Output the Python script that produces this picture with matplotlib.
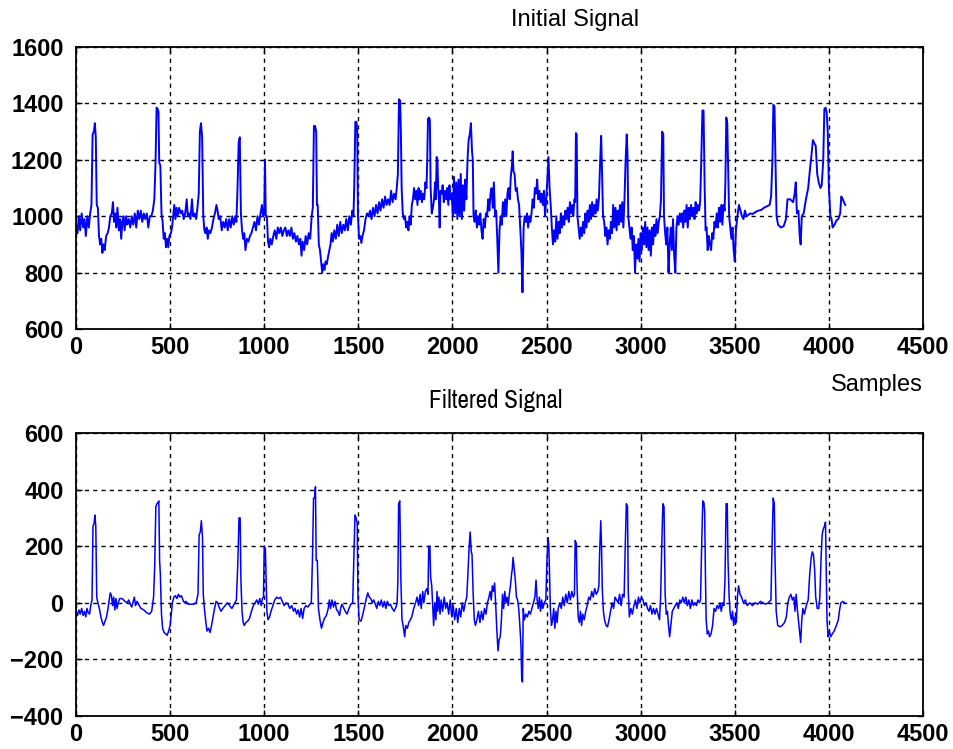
import matplotlib
matplotlib.use("Agg")
import matplotlib.pyplot as plt
from matplotlib import font_manager

# values (sample index, amplitude)
initial_samples = [
    0, 8, 15, 22, 30, 38, 45, 52, 60, 68, 75, 82,
    88, 95, 100, 105, 110, 116, 122, 128, 134, 140, 146, 152,
    160, 168, 175, 182, 190, 196, 202, 208, 214, 220, 228, 234,
    240, 246, 252, 258, 266, 272, 280, 288, 296, 304, 312, 320,
    328, 336, 344, 352, 360, 368, 376, 384, 392, 400, 408, 416,
    422, 428, 434, 438, 442, 448, 454, 460, 466, 472, 478, 484,
    490, 496, 504, 510, 516, 522, 528, 534, 540, 548, 556, 564,
    572, 580, 588, 594, 600, 608, 616, 622, 630, 638, 645, 652,
    658, 664, 670, 676, 682, 688, 694, 700, 706, 714, 722, 730,
    738, 746, 752, 758, 766, 774, 782, 790, 798, 806, 814, 822,
    830, 838, 846, 852, 858, 864, 870, 876, 882, 888, 894, 900,
    908, 916, 924, 932, 940, 948, 956, 964, 972, 980, 988, 994,
    1000, 1004, 1008, 1014, 1020, 1026, 1032, 1040, 1048, 1056, 1064, 1072,
    1080, 1088, 1096, 1104, 1112, 1120, 1128, 1136, 1144, 1152, 1160, 1168,
    1176, 1184, 1192, 1198, 1204, 1212, 1220, 1228, 1236, 1244, 1252, 1258,
    1264, 1270, 1276, 1280, 1284, 1290, 1296, 1302, 1308, 1314, 1320, 1326,
    1332, 1340, 1346, 1352, 1358, 1364, 1372, 1380, 1388, 1396, 1404, 1412,
    1420, 1428, 1436, 1444, 1452, 1460, 1468, 1474, 1478, 1484, 1490, 1494,
    1498, 1504, 1510, 1516, 1522, 1530, 1538, 1546, 1554, 1562, 1570, 1578,
    1586, 1594, 1602, 1610, 1618, 1626, 1634, 1642, 1650, 1658, 1666, 1674,
    1682, 1690, 1698, 1704, 1710, 1716, 1722, 1726, 1730, 1736, 1742, 1748,
    1754, 1760, 1766, 1772, 1778, 1784, 1790, 1796, 1802, 1808, 1814, 1820,
    1826, 1832, 1838, 1844, 1850, 1856, 1862, 1866, 1870, 1876, 1880, 1884,
    1890, 1896, 1902, 1908, 1912, 1916, 1920, 1924, 1928, 1932, 1936, 1942,
    1948, 1954, 1960, 1966, 1972, 1978, 1984, 1990, 1996, 2002, 2008, 2014,
    2020, 2026, 2032, 2038, 2044, 2050, 2056, 2062, 2068, 2074, 2080, 2086,
    2092, 2098, 2104, 2108, 2112, 2118, 2124, 2130, 2136, 2142, 2148, 2154,
    2160, 2166, 2172, 2178, 2184, 2190, 2196, 2202, 2208, 2214, 2220, 2226,
    2232, 2238, 2244, 2250, 2256, 2262, 2268, 2274, 2280, 2286, 2292, 2298,
    2304, 2310, 2316, 2320, 2324, 2330, 2336, 2342, 2348, 2354, 2360, 2366,
    2372, 2378, 2384, 2390, 2396, 2402, 2408, 2414, 2420, 2426, 2432, 2438,
    2444, 2450, 2456, 2462, 2468, 2474, 2480, 2486, 2492, 2498, 2504, 2510,
    2516, 2522, 2528, 2534, 2540, 2546, 2552, 2558, 2564, 2570, 2576, 2582,
    2588, 2594, 2600, 2606, 2612, 2618, 2624, 2630, 2636, 2642, 2648, 2652,
    2656, 2660, 2664, 2670, 2676, 2682, 2688, 2694, 2700, 2706, 2712, 2718,
    2724, 2730, 2736, 2742, 2748, 2754, 2760, 2766, 2772, 2778, 2784, 2790,
    2794, 2800, 2806, 2812, 2818, 2824, 2830, 2836, 2842, 2848, 2854, 2860,
    2866, 2872, 2878, 2884, 2890, 2896, 2902, 2908, 2914, 2920, 2926, 2930,
    2934, 2940, 2946, 2952, 2958, 2964, 2970, 2976, 2982, 2988, 2994, 3000,
    3006, 3012, 3018, 3024, 3030, 3036, 3042, 3048, 3054, 3060, 3066, 3072,
    3078, 3084, 3090, 3096, 3102, 3108, 3114, 3120, 3124, 3130, 3136, 3142,
    3148, 3154, 3160, 3166, 3172, 3178, 3184, 3190, 3196, 3202, 3208, 3214,
    3220, 3226, 3232, 3238, 3244, 3250, 3256, 3262, 3268, 3274, 3280, 3286,
    3292, 3298, 3304, 3310, 3316, 3322, 3328, 3334, 3340, 3345, 3350, 3356,
    3362, 3368, 3374, 3380, 3386, 3392, 3398, 3404, 3410, 3416, 3422, 3428,
    3434, 3440, 3446, 3450, 3455, 3460, 3464, 3470, 3476, 3482, 3488, 3494,
    3500, 3506, 3514, 3522, 3530, 3538, 3546, 3554, 3562, 3572, 3582, 3595,
    3610, 3625, 3640, 3655, 3670, 3685, 3693, 3700, 3705, 3711, 3716, 3722,
    3730, 3745, 3760, 3772, 3780, 3795, 3810, 3818, 3824, 3830, 3838, 3845,
    3850, 3856, 3866, 3878, 3890, 3900, 3908, 3915, 3922, 3930, 3938, 3946,
    3955, 3962, 3970, 3976, 3982, 3988, 3994, 4000, 4008, 4014, 4020, 4030,
    4040, 4050, 4060, 4066, 4074, 4080, 4087,
]
initial_values = [
    970, 940, 1000, 950, 1010, 960, 990, 930, 1000, 960, 1010, 1040,
    1290, 1300, 1330, 1280, 1040, 1030, 930, 900, 920, 870, 900, 880,
    930, 940, 960, 1000, 1010, 1050, 980, 1010, 960, 1030, 950, 990,
    920, 980, 1000, 950, 1000, 970, 990, 960, 1000, 970, 1010, 960,
    1020, 990, 1020, 980, 1010, 990, 1010, 960, 1000, 1000, 1020, 1060,
    1180, 1385, 1380, 1370, 1190, 1180, 1010, 980, 920, 940, 890, 920,
    890, 930, 940, 960, 1000, 1040, 990, 1030, 1000, 1030, 1010, 1020,
    990, 1010, 1060, 1000, 1010, 990, 1060, 1000, 1010, 990, 1030, 1080,
    1300, 1330, 1280, 1000, 950, 940, 960, 920, 950, 940, 960, 990,
    1010, 1040, 1020, 990, 1000, 950, 980, 960, 990, 950, 990, 960,
    1000, 970, 1000, 980, 1100, 1260, 1280, 1010, 950, 920, 940, 880,
    920, 910, 930, 940, 960, 980, 950, 1000, 970, 1010, 1040, 1000,
    1010, 1200, 1000, 1000, 910, 890, 920, 900, 930, 950, 920, 960,
    940, 960, 930, 950, 960, 930, 950, 930, 960, 920, 940, 910,
    930, 900, 920, 860, 910, 880, 930, 900, 940, 920, 1000, 1030,
    1320, 1320, 1300, 1040, 1040, 900, 880, 840, 800, 830, 810, 840,
    830, 860, 880, 900, 940, 910, 950, 920, 970, 930, 980, 940,
    970, 950, 990, 950, 1000, 970, 1020, 1000, 1100, 1335, 1335, 1300,
    1000, 920, 930, 905, 930, 950, 990, 1010, 1000, 1020, 990, 1030,
    1000, 1040, 1010, 1050, 1020, 1060, 1030, 1070, 1040, 1060, 1040, 1090,
    1050, 1080, 1060, 1100, 1150, 1415, 1410, 1300, 1100, 1010, 990, 1000,
    960, 980, 950, 1000, 970, 1040, 1060, 1100, 1060, 1090, 1040, 1100,
    1060, 1090, 1050, 1080, 1060, 1120, 1100, 1200, 1345, 1350, 1340, 1100,
    1010, 1030, 1060, 1120, 1060, 1210, 1200, 1100, 1060, 960, 1090, 1080,
    1110, 1050, 1090, 1060, 1100, 1040, 1110, 1060, 1080, 1000, 1140, 1010,
    1120, 990, 1130, 1000, 1150, 990, 1110, 1020, 1130, 1060, 1200, 1270,
    1290, 1330, 1230, 1200, 1000, 980, 1020, 960, 1000, 970, 1010, 950,
    920, 990, 960, 1010, 1000, 1060, 1020, 1080, 1100, 1030, 1120, 1000,
    1020, 920, 800, 950, 1000, 970, 1050, 1000, 1060, 1000, 1080, 1100,
    1060, 1140, 1180, 1230, 1160, 1150, 1090, 1100, 1060, 1040, 960, 880,
    730, 960, 1000, 980, 1010, 960, 1000, 980, 1010, 1060, 1030, 1100,
    1080, 1130, 1060, 1090, 1050, 1080, 1040, 1090, 1000, 1060, 1130, 1210,
    1100, 1040, 960, 900, 950, 910, 1000, 920, 980, 940, 1010, 960,
    1000, 970, 1020, 990, 1030, 980, 1050, 1010, 1040, 1000, 1060, 1050,
    1295, 1290, 1000, 960, 920, 960, 930, 980, 940, 1010, 960, 1020,
    980, 1040, 990, 1050, 1000, 1040, 1010, 1060, 1020, 1060, 1180, 1285,
    1180, 1000, 980, 930, 960, 900, 950, 920, 980, 940, 1040, 960,
    1030, 950, 1020, 970, 1040, 980, 1050, 960, 1060, 1200, 1290, 1220,
    1000, 960, 920, 960, 880, 930, 800, 900, 850, 920, 840, 940,
    880, 960, 900, 980, 890, 960, 880, 950, 860, 960, 900, 970,
    930, 990, 940, 980, 1000, 1060, 1300, 1290, 1000, 940, 900, 960,
    800, 900, 960, 880, 990, 860, 800, 960, 1000, 970, 1010, 980,
    1010, 960, 1020, 980, 1040, 960, 1030, 990, 1040, 1000, 1030, 990,
    1050, 1010, 1040, 1020, 1050, 1200, 1375, 1375, 1100, 950, 960, 880,
    930, 900, 880, 940, 920, 980, 960, 1010, 960, 1030, 980, 1040,
    970, 1040, 1020, 1120, 1350, 1330, 1200, 1000, 960, 920, 960, 880,
    840, 950, 1000, 1040, 1020, 1000, 990, 1020, 1000, 1005, 1010, 1008,
    1015, 1020, 1022, 1030, 1035, 1040, 1070, 1200, 1395, 1390, 1200, 1000,
    970, 960, 965, 990, 1060, 1060, 1050, 1080, 1120, 1010, 1020, 930,
    900, 1000, 1010, 1060, 1100, 1170, 1220, 1270, 1260, 1250, 1150, 1120,
    1100, 1110, 1200, 1380, 1385, 1370, 1300, 1100, 1000, 990, 960, 970,
    985, 990, 1010, 1070, 1060, 1050, 1040,
]

filtered_samples = [
    0, 8, 15, 22, 30, 38, 45, 52, 58, 65, 72, 78,
    85, 90, 96, 100, 105, 110, 116, 124, 132, 140, 146, 154,
    162, 170, 176, 182, 188, 194, 200, 206, 212, 218, 224, 232,
    245, 260, 272, 280, 288, 296, 304, 310, 316, 324, 332, 345,
    360, 375, 390, 402, 412, 418, 424, 430, 436, 440, 444, 448,
    454, 460, 468, 476, 484, 492, 500, 506, 512, 520, 528, 536,
    544, 552, 560, 568, 576, 584, 596, 610, 625, 638, 648, 654,
    660, 666, 672, 676, 682, 690, 696, 704, 712, 720, 728, 736,
    744, 752, 760, 770, 780, 792, 804, 816, 828, 840, 852, 860,
    866, 872, 876, 882, 888, 894, 902, 912, 922, 932, 942, 952,
    960, 968, 976, 984, 990, 996, 1000, 1006, 1010, 1014, 1020, 1028,
    1036, 1046, 1056, 1066, 1076, 1086, 1096, 1106, 1116, 1126, 1136, 1146,
    1156, 1164, 1172, 1180, 1188, 1196, 1204, 1212, 1222, 1232, 1242, 1250,
    1256, 1262, 1268, 1272, 1276, 1282, 1288, 1296, 1304, 1312, 1320, 1330,
    1340, 1346, 1352, 1360, 1368, 1376, 1384, 1392, 1400, 1406, 1412, 1420,
    1430, 1440, 1450, 1460, 1470, 1476, 1482, 1488, 1494, 1498, 1504, 1514,
    1524, 1534, 1544, 1550, 1558, 1566, 1574, 1582, 1590, 1598, 1606, 1614,
    1622, 1630, 1638, 1646, 1654, 1662, 1670, 1680, 1690, 1700, 1706, 1710,
    1714, 1720, 1726, 1732, 1740, 1746, 1752, 1760, 1768, 1776, 1784, 1794,
    1804, 1812, 1820, 1828, 1834, 1842, 1848, 1856, 1864, 1870, 1874, 1880,
    1884, 1890, 1896, 1900, 1906, 1912, 1918, 1922, 1928, 1934, 1940, 1948,
    1956, 1964, 1972, 1980, 1988, 1996, 2004, 2012, 2020, 2028, 2036, 2044,
    2052, 2060, 2068, 2076, 2082, 2088, 2094, 2100, 2104, 2110, 2116, 2122,
    2130, 2138, 2146, 2154, 2162, 2170, 2178, 2186, 2194, 2200, 2206, 2212,
    2218, 2224, 2230, 2236, 2242, 2248, 2254, 2260, 2266, 2272, 2278, 2284,
    2290, 2296, 2302, 2308, 2314, 2318, 2322, 2328, 2334, 2340, 2346, 2352,
    2358, 2364, 2368, 2372, 2376, 2382, 2390, 2398, 2406, 2414, 2422, 2430,
    2438, 2444, 2450, 2456, 2462, 2468, 2474, 2480, 2488, 2496, 2502, 2508,
    2512, 2516, 2520, 2526, 2532, 2538, 2544, 2550, 2556, 2562, 2570, 2578,
    2586, 2594, 2602, 2610, 2618, 2626, 2634, 2642, 2648, 2652, 2658, 2662,
    2668, 2674, 2680, 2686, 2692, 2700, 2708, 2716, 2724, 2732, 2740, 2748,
    2756, 2764, 2772, 2778, 2782, 2788, 2792, 2796, 2802, 2808, 2816, 2824,
    2832, 2840, 2848, 2856, 2864, 2872, 2880, 2888, 2896, 2904, 2912, 2918,
    2924, 2930, 2934, 2940, 2948, 2956, 2964, 2972, 2980, 2988, 2996, 3004,
    3012, 3020, 3028, 3036, 3044, 3052, 3060, 3068, 3076, 3084, 3092, 3100,
    3106, 3112, 3118, 3124, 3130, 3136, 3142, 3148, 3154, 3160, 3168, 3176,
    3184, 3192, 3200, 3208, 3216, 3224, 3232, 3240, 3248, 3256, 3264, 3272,
    3280, 3288, 3296, 3304, 3312, 3318, 3324, 3330, 3336, 3340, 3344, 3348,
    3354, 3360, 3366, 3374, 3382, 3390, 3398, 3406, 3414, 3422, 3428, 3436,
    3442, 3448, 3454, 3460, 3464, 3470, 3476, 3482, 3488, 3494, 3500, 3508,
    3514, 3520, 3528, 3536, 3546, 3556, 3566, 3580, 3594, 3608, 3622, 3636,
    3650, 3664, 3678, 3692, 3698, 3704, 3710, 3714, 3720, 3728, 3740, 3752,
    3764, 3774, 3782, 3790, 3798, 3806, 3814, 3820, 3826, 3832, 3838, 3844,
    3850, 3856, 3862, 3870, 3880, 3890, 3898, 3906, 3912, 3918, 3924, 3930,
    3938, 3946, 3952, 3958, 3964, 3970, 3976, 3982, 3986, 3990, 3996, 4002,
    4010, 4018, 4028, 4040, 4050, 4058, 4064, 4074, 4085,
]
filtered_values = [
    -30, -45, -25, -40, -20, -45, -30, -50, -20, -35, -40, -10,
    10, 270, 280, 310, 270, 20, 0, -20, -50, -70, -80, -65,
    -50, -20, 10, 35, 25, -10, 20, -25, 15, -20, 0, 15,
    15, 5, 0, 10, -5, -15, 5, 20, -10, 5, -5, -20,
    -25, -35, -40, -30, 20, 130, 340, 350, 355, 360, 150, 100,
    -40, -90, -105, -110, -115, -100, -80, -40, 0, 20, 25, 15,
    30, 20, 25, 10, 0, 5, -5, -5, -5, 0, 30, 240,
    250, 290, 230, 30, -20, -70, -100, -90, -105, -80, -50, -20,
    5, 0, -15, -30, -20, -10, 0, -10, -20, -5, 10, 150,
    300, 300, 80, -30, -70, -80, -70, -65, -55, -30, -10, 0,
    10, -5, 15, -10, 15, 20, 200, 190, 80, -30, -60, -50,
    -30, -10, 10, 20, 15, 20, 5, -10, 0, -5, -20, -10,
    -30, -20, -40, -25, -50, -20, -55, -20, -10, -15, -5, 0,
    150, 370, 370, 410, 150, 150, -20, -60, -90, -70, -55, -45,
    -20, 10, -20, 10, -15, 5, -25, -30, -45, -20, -5, -15,
    -30, -40, -20, -5, 0, 160, 310, 300, 280, 20, -60, -65,
    -40, -10, 20, 35, 20, 15, 0, 10, -5, -20, 5, -10,
    10, -15, 5, -20, 5, -10, -5, -20, -30, -15, 0, 80,
    350, 360, 80, -60, -90, -120, -80, -90, -70, -60, -50, -20,
    0, 20, -10, 30, -20, 40, 0, 40, 50, 30, 200, 200,
    90, 60, -20, -80, 0, -60, 40, -30, 20, -40, 10, -30,
    20, -20, 0, -40, 10, -50, -10, -60, -20, -70, -20, -50,
    0, -30, 0, 20, 100, 190, 250, 180, 170, 30, -60, -80,
    -60, -30, -70, -30, -60, -20, -40, 0, 20, 40, 10, 60,
    40, 70, -10, -100, -170, -130, -120, -60, 30, -20, 40, 0,
    20, -10, 30, 60, 100, 120, 160, 120, 80, 20, 10, -20,
    -80, -150, -270, -280, -20, -60, -40, -50, -30, -40, -20, 0,
    20, 80, 10, -20, 20, -30, 10, -20, 0, 10, 150, 230,
    200, 100, -20, -80, -60, -20, -90, -30, -70, -20, 0, -20,
    20, -10, 30, 0, 40, 10, 40, 20, 30, 220, 210, 60,
    -50, -70, -30, -80, -40, -60, -30, -10, 20, 10, 40, 20,
    50, 30, 40, 60, 180, 290, 200, 50, -30, -60, -80, -85,
    -60, -30, 0, -20, 20, 10, 0, 30, -10, 30, 20, 200,
    350, 340, 40, -50, -20, -40, -10, 10, -20, 20, 0, 20,
    10, -10, 0, -20, -30, -10, -40, -20, -40, -20, -40, -60,
    20, 200, 350, 340, 30, -40, -30, -80, -120, -80, -30, -20,
    -10, 0, -20, 10, 0, 20, 0, 20, -10, 10, -20, 10,
    -10, 0, -10, 10, 0, 10, 200, 360, 355, 320, 100, -60,
    -110, -100, -120, -110, -80, -20, -30, -10, -20, 0, -30, 0,
    -10, 80, 350, 350, 150, 20, -40, -60, -30, -80, -50, -70,
    20, 60, 30, 20, 0, 10, -10, 0, -10, 0, -5, 5,
    0, -5, 0, 10, 200, 370, 350, 150, -30, -80, -85, -80,
    -70, -50, 0, 20, 30, 10, 20, -30, 30, -20, -60, -100,
    -140, -60, -20, -40, -10, 10, 100, 160, 180, 170, 120, 20,
    -20, -20, 20, 150, 240, 260, 270, 285, 100, -60, -120, -100,
    -120, -110, -100, -80, -60, -20, 0, 5, 0,
]

x_ticks = [0, 500, 1000, 1500, 2000, 2500, 3000, 3500, 4000, 4500]
initial_ticks = [600, 800, 1000, 1200, 1400, 1600]
filtered_ticks = [-400, -200, 0, 200, 400, 600]

plt.rcParams['font.family'] = ['Liberation Sans', 'DejaVu Sans']

fig = plt.figure(figsize=(9.54, 7.49), dpi=100)
ax1 = fig.add_axes([0.0797, 0.5607, 0.8878, 0.3765])
ax2 = fig.add_axes([0.0797, 0.0441, 0.8878, 0.3778])


def style_axes(ax, yticks):
    ax.set_xlim(0, 4500)
    ax.set_ylim(yticks[0], yticks[-1])
    ax.set_xticks(x_ticks)
    ax.set_yticks(yticks)
    ax.grid(True, color='black', linestyle=(0, (3, 3)), linewidth=1.0)
    ax.tick_params(direction='in', length=4, width=1, labelsize=17,
                   top=True, right=True)
    ax.tick_params(axis='y', pad=9)
    ax.tick_params(axis='x', pad=5)
    for lab in ax.get_xticklabels() + ax.get_yticklabels():
        lab.set_fontweight('bold')
    for sp in ax.spines.values():
        sp.set_linewidth(1.3)


ax1.plot(initial_samples, initial_values, color='#0000ff', linewidth=1.4)
style_axes(ax1, initial_ticks)

ax2.plot(filtered_samples, filtered_values, color='#0000ff', linewidth=1.1)
style_axes(ax2, filtered_ticks)

fig.text(575 / 954, 1 - 20 / 749, 'Initial Signal', ha='center', va='center',
         fontsize=17)
fig.text(0.967, 1 - 385 / 749, 'Samples', ha='right', va='center', fontsize=17)

# narrow face for the lower title if one is installed
narrow = [f.name for f in font_manager.fontManager.ttflist
          if 'Narrow' in f.name or 'Condensed' in f.name]
title_fonts = narrow[:1] + ['Liberation Sans', 'DejaVu Sans']
title_size = 18 if narrow else 14.5
fig.text(496 / 954, 1 - 401 / 749, 'Filtered Signal', ha='center', va='center',
         fontsize=title_size, fontweight='bold', fontstretch='condensed',
         family=title_fonts)

fig.savefig('out.png', dpi=100)
